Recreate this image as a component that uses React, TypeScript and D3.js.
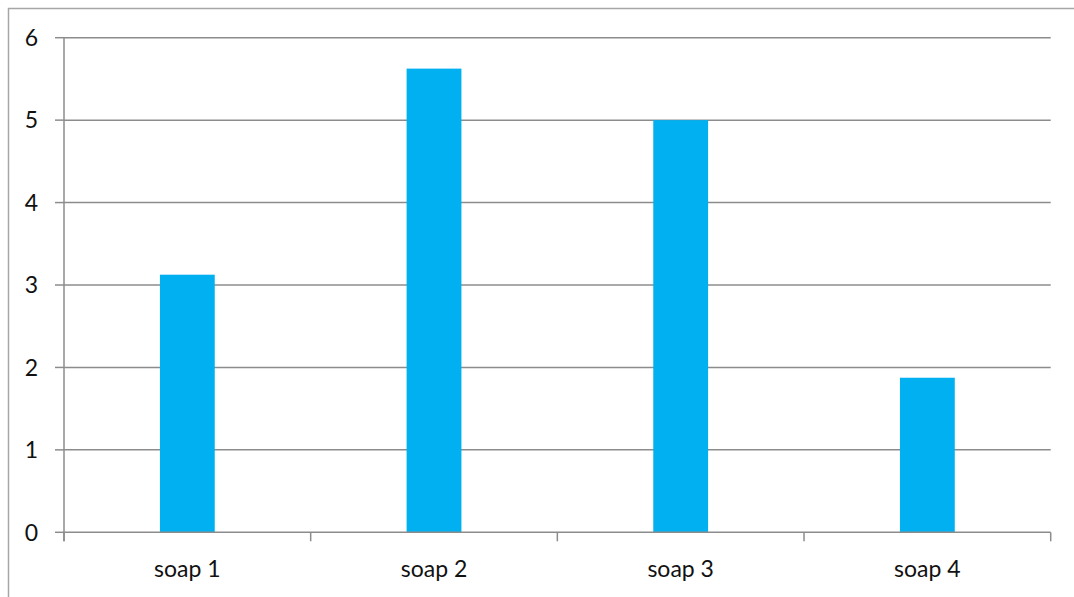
import React, { useEffect, useRef } from "react";
import * as d3 from "d3";

const categories = ["soap 1", "soap 2", "soap 3", "soap 4"];
const values = [3.125, 5.625, 5, 1.875];
const yTicks = [0, 1, 2, 3, 4, 5, 6];

const W = 1074;
const H = 597;
const margin = { left: 64, right: 23.3, top: 37.7, bottom: 64.7 };
const FONT = "Lato, 'Open Sans', sans-serif";
const FONT_SIZE = 23;

export default function App() {
  const ref = useRef<SVGSVGElement | null>(null);

  useEffect(() => {
    const svg = d3.select(ref.current);
    svg.selectAll("*").remove();

    const x0 = margin.left;
    const x1 = W - margin.right;
    const y0 = H - margin.bottom;
    const y1 = margin.top;

    const x = d3.scaleBand<string>().domain(categories).range([x0, x1]);
    const y = d3.scaleLinear().domain([0, 6]).range([y0, y1]);
    const barW = x.bandwidth() / 4.5;

    // outer chart frame
    svg
      .append("rect")
      .attr("x", 8.5)
      .attr("y", 8.5)
      .attr("width", W + 20)
      .attr("height", H + 20)
      .attr("fill", "none")
      .attr("stroke", "#a6a6a6")
      .attr("stroke-width", 1.5);

    // horizontal gridlines
    svg
      .append("g")
      .selectAll("line")
      .data(yTicks.filter((t) => t > 0))
      .join("line")
      .attr("x1", x0)
      .attr("x2", x1)
      .attr("y1", (d) => y(d))
      .attr("y2", (d) => y(d))
      .attr("stroke", "#8c8c8c")
      .attr("stroke-width", 1.5);

    // bars
    svg
      .append("g")
      .selectAll("rect")
      .data(values)
      .join("rect")
      .attr("x", (_, i) => (x(categories[i]) as number) + x.bandwidth() / 2 - barW / 2)
      .attr("y", (d) => y(d))
      .attr("width", barW)
      .attr("height", (d) => y0 - y(d))
      .attr("fill", "#00b0f0");

    // y axis line and ticks
    const ax = svg.append("g").attr("stroke", "#8c8c8c").attr("stroke-width", 1.5);
    ax.append("line").attr("x1", x0).attr("x2", x0).attr("y1", y1).attr("y2", y0 + 9);
    ax.selectAll("line.yt")
      .data(yTicks)
      .join("line")
      .attr("class", "yt")
      .attr("x1", x0 - 9)
      .attr("x2", x0)
      .attr("y1", (d) => y(d))
      .attr("y2", (d) => y(d));

    // x axis line and category ticks
    ax.append("line").attr("x1", x0).attr("x2", x1).attr("y1", y0).attr("y2", y0);
    const bounds = categories.map((c) => x(c) as number).concat([x1]);
    ax.selectAll("line.xt")
      .data(bounds)
      .join("line")
      .attr("class", "xt")
      .attr("x1", (d) => d)
      .attr("x2", (d) => d)
      .attr("y1", y0)
      .attr("y2", y0 + 9);

    // y tick labels
    svg
      .append("g")
      .selectAll("text")
      .data(yTicks)
      .join("text")
      .attr("x", x0 - 26)
      .attr("y", (d) => y(d))
      .attr("dy", "0.36em")
      .attr("text-anchor", "end")
      .attr("font-family", FONT)
      .attr("font-size", FONT_SIZE)
      .attr("fill", "#111")
      .text((d) => String(d));

    // category labels
    svg
      .append("g")
      .selectAll("text")
      .data(categories)
      .join("text")
      .attr("x", (d) => (x(d) as number) + x.bandwidth() / 2)
      .attr("y", y0 + 45)
      .attr("text-anchor", "middle")
      .attr("font-family", FONT)
      .attr("font-size", FONT_SIZE)
      .attr("fill", "#111")
      .text((d) => d);
  }, []);

  return (
    <svg
      ref={ref}
      width={W}
      height={H}
      style={{ position: "absolute", left: 0, top: 0, display: "block" }}
    />
  );
}
